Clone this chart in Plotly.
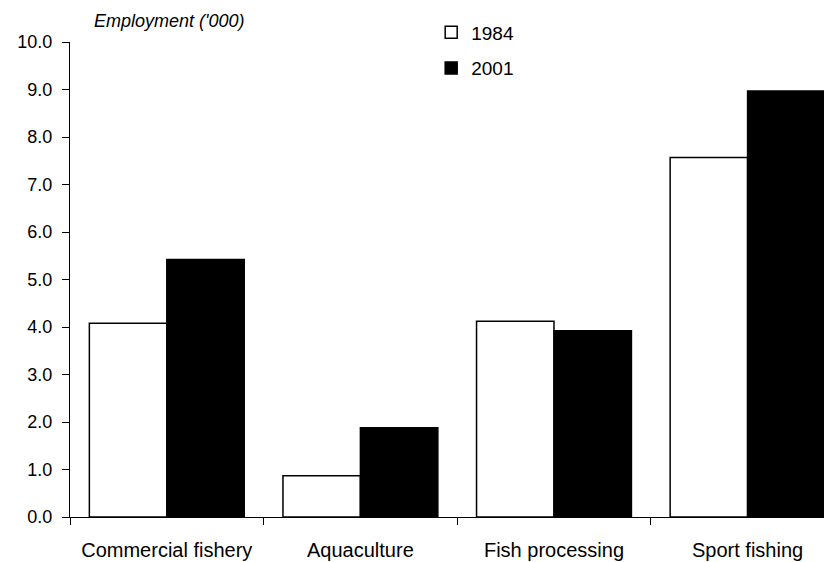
import plotly.graph_objects as go

# Employment ('000) by sector
sectors = ["Commercial fishery", "Aquaculture", "Fish processing", "Sport fishing"]
emp_1984 = [4.08, 0.87, 4.12, 7.57]
emp_2001 = [5.42, 1.88, 3.92, 8.97]
y_ticks = [0, 1, 2, 3, 4, 5, 6, 7, 8, 9, 10]

FONT = "Liberation Sans, Arial, sans-serif"

fig = go.Figure()
fig.add_trace(go.Bar(
    x=sectors, y=emp_1984, name="1984", legendgroup="a",
    marker=dict(color="white", line=dict(color="black", width=1.5)),
))
fig.add_trace(go.Bar(
    x=sectors, y=emp_2001, name="2001", legendgroup="b",
    marker=dict(color="black", line=dict(color="black", width=1.5)),
))

# page body adds an 8px offset, margins account for it
fig.update_layout(
    width=832, height=562,
    margin=dict(l=62, r=8, t=34, b=53, autoexpand=False),
    paper_bgcolor="white", plot_bgcolor="white",
    font=dict(family=FONT, size=18, color="black"),
    barmode="group", bargap=0.2, bargroupgap=0,
    legend=dict(
        x=0.474, y=1.06, xanchor="left", yanchor="top",
        font=dict(size=19), tracegroupgap=8, itemwidth=30,
        bgcolor="rgba(0,0,0,0)",
    ),
    annotations=[dict(
        text="Employment ('000)", xref="paper", yref="paper",
        x=0.131, y=1.044, xanchor="center", yanchor="middle",
        showarrow=False, font=dict(size=18, style="italic"),
    )],
)
fig.update_yaxes(
    range=[0, 10], tickvals=y_ticks, tickformat=".1f",
    ticks="outside", ticklen=7, tickcolor="black",
    showline=True, linecolor="black", linewidth=1,
    showgrid=False, zeroline=False, ticklabelstandoff=6,
)
fig.update_xaxes(
    range=[-0.5, 3.436], tickson="boundaries",
    ticks="outside", ticklen=7, tickcolor="black",
    showline=True, linecolor="black", linewidth=1,
    showgrid=False, ticklabelstandoff=15,
    tickfont=dict(size=20),
)

fig.write_html("out.html")
